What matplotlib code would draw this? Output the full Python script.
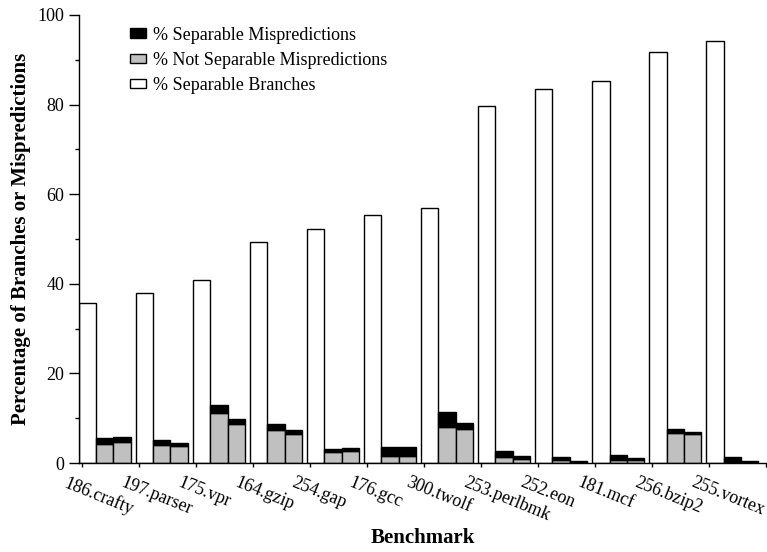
import matplotlib

matplotlib.use("Agg")
import matplotlib.pyplot as plt
import numpy as np

plt.rcParams["font.family"] = ["Liberation Serif", "DejaVu Serif"]

benchmarks = ["186.crafty", "197.parser", "175.vpr", "164.gzip", "254.gap", "176.gcc",
              "300.twolf", "253.perlbmk", "252.eon", "181.mcf", "256.bzip2", "255.vortex"]
sep_branches = [35.8, 38.0, 40.8, 49.3, 52.3, 55.3, 57.0, 79.7, 83.5, 85.2, 91.7, 94.2]
# two predictor configurations per benchmark: not separable part and separable part
not_sep_a = [4.3, 4.15, 11.15, 7.5, 2.4, 1.65, 8.1, 1.45, 0.65, 0.8, 6.7, 0.0]
sep_a = [1.3, 0.95, 1.85, 1.2, 0.8, 1.85, 3.4, 1.2, 0.8, 0.95, 0.85, 1.4]
not_sep_b = [4.75, 3.9, 8.8, 6.55, 2.75, 1.7, 7.7, 0.95, 0.2, 0.75, 6.5, 0.0]
sep_b = [1.15, 0.7, 1.1, 0.95, 0.6, 1.8, 1.25, 0.65, 0.3, 0.5, 0.5, 0.45]

GRAY = "#c0c0c0"
w = 0.302
off = -0.05
x = np.arange(len(benchmarks))

fig = plt.figure(figsize=(7.67, 5.52), dpi=100)
ax = fig.add_axes([0.103, 0.161, 0.896, 0.812])

kw = dict(width=w, align="edge", edgecolor="black", linewidth=1.0)
ax.bar(x + off, sep_branches, color="white", label="% Separable Branches", **kw)
ax.bar(x + off + w, not_sep_a, color=GRAY, label="% Not Separable Mispredictions", **kw)
ax.bar(x + off + w, sep_a, bottom=not_sep_a, color="black", label="% Separable Mispredictions", **kw)
ax.bar(x + off + 2 * w, not_sep_b, color=GRAY, **kw)
ax.bar(x + off + 2 * w, sep_b, bottom=not_sep_b, color="black", **kw)

ax.set_xlim(off, len(benchmarks))
ax.set_ylim(0, 100)
ax.set_yticks(np.arange(0, 101, 20))
ax.set_yticks(np.arange(10, 100, 20), minor=True)
ax.set_xticks(np.arange(len(benchmarks) + 1))
ax.set_xticklabels([])
# rotated benchmark names, starting a bit left of each tick
for i, name in enumerate(benchmarks):
    ax.annotate(name, xy=(i, 0), xycoords=("data", "axes fraction"),
                xytext=(-10, -8), textcoords="offset points", rotation=-22,
                ha="left", va="top", rotation_mode="anchor", fontsize=13)
ax.tick_params(axis="y", which="major", length=7, width=1, labelsize=13, direction="out")
ax.tick_params(axis="y", which="minor", length=3, width=1, direction="out")
ax.tick_params(axis="x", length=3, width=1, direction="out")
for side in ("top", "right"):
    ax.spines[side].set_visible(False)
for side in ("left", "bottom"):
    ax.spines[side].set_linewidth(1.0)

ax.set_xlabel("Benchmark", fontsize=15, fontweight="bold", labelpad=40)
ax.set_ylabel("Percentage of Branches or Mispredictions", fontsize=15, fontweight="bold", labelpad=5)

handles, labels = ax.get_legend_handles_labels()
order = [2, 1, 0]
ax.legend([handles[i] for i in order], [labels[i] for i in order], loc="upper left",
          bbox_to_anchor=(0.05, 1.01), frameon=False, fontsize=13,
          handlelength=0.9, handleheight=0.45, handletextpad=0.4, labelspacing=0.45)

plt.savefig("out.png", dpi=100)
plt.close(fig)
